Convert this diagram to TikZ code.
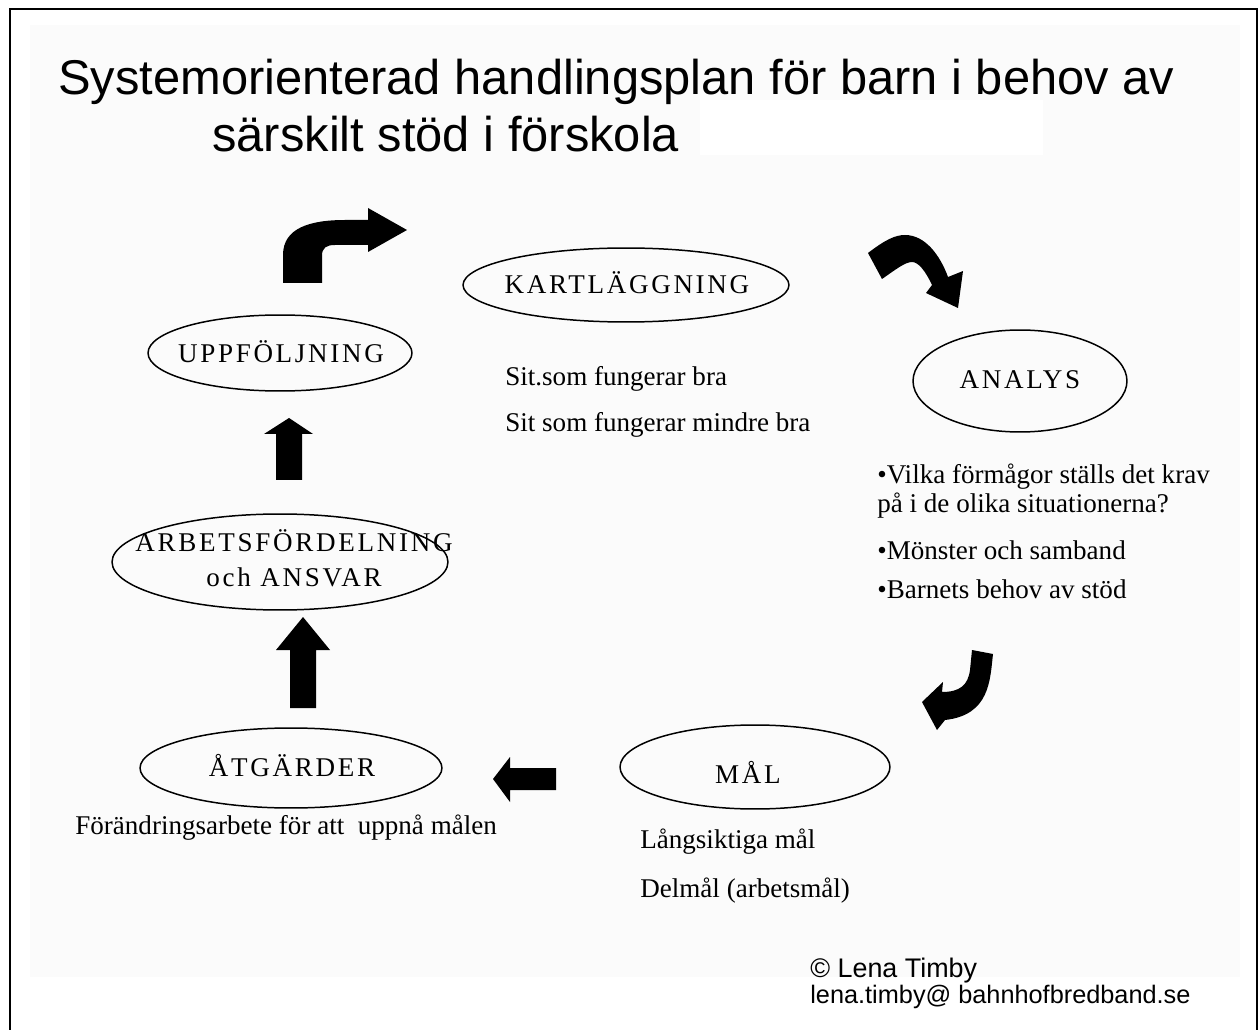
\documentclass[tikz,border=0pt]{standalone}
\usepackage{fontspec}
\setmainfont{Liberation Serif}
\newfontfamily\arialfont{Liberation Sans}
\newfontfamily\labelfont[LetterSpace=10]{Liberation Serif}
\usetikzlibrary{shapes.geometric}
\begin{document}
\begin{tikzpicture}[x=0.02cm,y=-0.02cm,
  oval/.style={ellipse,draw=black,line width=0.85pt,inner sep=0pt},
  lbl/.style={font=\labelfont\fontsize{15.4}{18}\selectfont,inner sep=0pt},
  body/.style={font=\fontsize{15.4}{18}\selectfont,inner sep=0pt,anchor=base west},
  blockarrow/.style={fill=black,draw=none},
  titletext/.style={font=\arialfont\fontsize{27.8}{34}\selectfont,inner sep=0pt,anchor=base west}]
\useasboundingbox (0,0) rectangle (1258,1030);
\fill[white] (0,0) rectangle (1258,1030);
\fill[black!1.5] (30,25) rectangle (1240,977);
% frame
\draw[line width=1.3pt] (10,1030) -- (10,9) -- (1257,9) -- (1257,1030);
% title
\node[titletext] (t1) at (58,95) {Systemorienterad handlingsplan för barn i behov av};
\node[titletext] (t2) at (212,152) {särskilt stöd i förskola};
\fill[white] (700,100) rectangle (1043,155);
% ellipses
\node[oval,minimum width=6.52cm,minimum height=1.48cm] (kart) at (626,285) {};
\node[oval,minimum width=4.28cm,minimum height=2.04cm] (anal) at (1020,381) {};
\node[oval,minimum width=5.28cm,minimum height=1.52cm] (uppf) at (280,353) {};
\node[oval,minimum width=6.72cm,minimum height=1.92cm] (arbe) at (280,562) {};
\node[oval,minimum width=6.04cm,minimum height=1.60cm] (atga) at (291,768) {};
\node[oval,minimum width=5.40cm,minimum height=1.68cm] (mal) at (755,767) {};
% labels
\node[lbl] (kartL) at (627,283) {KARTLÄGGNING};
\node[lbl] (analL) at (1020,380) {ANALYS};
\node[lbl] (uppfL) at (281,352) {UPPFÖLJNING};
\node[lbl,align=center] (arbeL) at (294,558) {ARBETSFÖRDELNING\\[2pt]och ANSVAR};
\node[lbl] (atgaL) at (292,766) {ÅTGÄRDER};
\node[lbl] (malL) at (748,772) {MÅL};
% body texts
\node[body] (s1) at (505,386) {Sit.som fungerar bra};
\node[body] (s2) at (505,432) {Sit som fungerar mindre bra};
\node[body] (b1) at (877,483) {\textbullet Vilka förmågor ställs det krav};
\node[body] (b2) at (877,513) {på i de olika situationerna?};
\node[body] (b3) at (877,560) {\textbullet Mönster och samband};
\node[body] (b4) at (877,598) {\textbullet Barnets behov av stöd};
\node[body] (m1) at (640,848) {Långsiktiga mål};
\node[body] (m2) at (640,897) {Delmål (arbetsmål)};
\node[body] (f1) at (75,834) {Förändringsarbete för att\ \ uppnå målen};
\node[inner sep=0pt,anchor=base west,font=\arialfont\fontsize{15.3}{18}\selectfont] (c1) at (810,977) {© Lena Timby};
\node[inner sep=0pt,anchor=base west,font=\arialfont\fontsize{14.4}{17}\selectfont] (c2) at (810,1003) {lena.timby@ bahnhofbredband.se};
% block arrows
% bent arrow top-left
\fill[blockarrow] (283,283) -- (283,255) .. controls (283,228) and (310,220) .. (345,220) -- (368,220) -- (368,208) -- (407,230) -- (368,252) -- (368,245) -- (335,245) .. controls (326,245) and (322,248) .. (322,256) -- (322,283) -- cycle;
% curved arrow top-right
\fill[blockarrow] (868,253) .. controls (885,240) and (895,235) .. (905,235) .. controls (925,235) and (940,255) .. (948,277) -- (963,271) -- (958,308) -- (926,293) -- (932,285) .. controls (925,270) and (918,262) .. (912,262) .. controls (905,262) and (895,270) .. (882,279) -- cycle;
% curved arrow bottom-right
\fill[blockarrow] (972,650) -- (993,654) .. controls (990,680) and (990,715) .. (945,720) -- (937,730) -- (922,702) -- (943,682) -- (942,692) .. controls (960,692) and (968,685) .. (970,670) -- cycle;
% left arrow
\fill[blockarrow] (556,768) -- (510,768) -- (510,757) -- (493,779) -- (510,802) -- (510,790) -- (556,790) -- cycle;
% up arrow upper
\fill[blockarrow] (276,480) -- (276,434) -- (264,434) -- (289,418) -- (313,434) -- (302,434) -- (302,480) -- cycle;
% up arrow lower
\fill[blockarrow] (290,708) -- (290,650) -- (276,650) -- (303,617) -- (330,650) -- (316,650) -- (316,708) -- cycle;
\end{tikzpicture}
\end{document}
